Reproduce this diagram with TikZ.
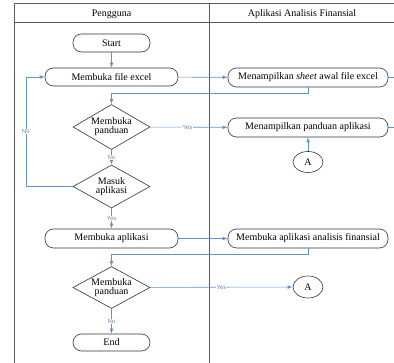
\documentclass[tikz,border=0pt]{standalone}
\usepackage{fontspec}
\setmainfont{Liberation Serif}
\newfontfamily\lblfont{Liberation Sans}
\usetikzlibrary{arrows.meta,shapes.geometric}
\definecolor{flowblue}{RGB}{96,146,206}
\definecolor{lblgray}{RGB}{120,135,160}
\definecolor{lanegray}{RGB}{90,90,90}
\tikzset{
  txt/.style={font=\fontsize{10}{11}\selectfont, align=center},
  term/.style={txt, draw=black!80, line width=0.6pt, rectangle, rounded corners=8.5pt,
    inner sep=0pt, minimum height=18pt},
  decide/.style={txt, draw=black!80, line width=0.6pt, diamond, aspect=1.7,
    inner sep=0pt, minimum width=77pt},
  conn/.style={txt, draw=black!80, line width=0.6pt, ellipse, inner sep=0pt,
    minimum width=30pt, minimum height=21pt},
  flow/.style={draw=flowblue, line width=0.6pt, -{Latex[length=5pt,width=3.6pt]}},
  plain/.style={draw=flowblue, line width=0.6pt},
  lbl/.style={font=\lblfont\fontsize{6}{7}\selectfont, text=lblgray, fill=white,
    inner sep=0.6pt},
  lane/.style={draw=lanegray, line width=1pt},
}
\begin{document}
\begin{tikzpicture}[x=1pt,y=-1pt]
\useasboundingbox (0,0) rectangle (394,363);

% swimlanes
\draw[lane] (14,363) -- (14,4) -- (394,4);
\draw[lane] (14,23) -- (394,23);
\draw[lane] (209,4) -- (209,363);
\node[txt] (h1) at (111.5,14) {Pengguna};
\node[txt] (h2) at (302,14) {Aplikasi Analisis Finansial};

% user lane
\node[term, minimum width=77pt] (start) at (111.5,43) {Start};
\node[term, minimum width=133pt] (file) at (111.5,77) {Membuka file excel};
\node[decide, minimum height=45pt] (d1) at (111.5,127) {Membuka\\[-2pt]panduan};
\node[decide, minimum height=43pt] (d2) at (111.5,186.5) {Masuk\\[-2pt]aplikasi};
\node[term, minimum width=133pt, minimum height=19pt] (open) at (111.5,238.5) {Membuka aplikasi};
\node[decide, minimum height=41pt] (d3) at (111.5,287.5) {Membuka\\[-2pt]panduan};
\node[term, minimum width=77pt, minimum height=17pt] (end) at (111.5,342.5) {End};

% application lane
\node[term, minimum width=160pt, minimum height=19pt] (sheet) at (308,77.5)
  {Menampilkan \textit{sheet} awal file excel};
\node[term, minimum width=160pt, minimum height=19pt] (guide) at (308,127.5)
  {Menampilkan panduan aplikasi};
\node[conn] (a1) at (308,162) {A};
\node[term, minimum width=160pt, minimum height=19pt] (fin) at (308,238.5)
  {Membuka aplikasi analisis finansial};
\node[conn, minimum height=22pt] (a2) at (308,287) {A};

\coordinate (out1) at (394,77.5);
\coordinate (out2) at (394,127.5);
\coordinate (loop) at (26,186.5);

% connectors
\draw[flow] (start) -- (file);
\draw[flow] (file) -- (sheet);
\draw[plain] (sheet) -- (out1);
\draw[flow] (sheet.south) -- ++(0,6.5) -| (d1.north);
\draw[flow] (d1) -- node[lbl, pos=0.48] {Yes} (guide);
\draw[plain] (guide) -- (out2);
\draw[flow] (a1) -- (guide);
\draw[flow] (d1) -- node[lbl] {No} (d2);
\draw[flow] (d2.west) -- (loop) |- node[lbl, pos=0.25] {No} (file.west);
\draw[flow] (d2) -- node[lbl] {Yes} (open);
\draw[flow] (open) -- (fin);
\draw[flow] (fin.south) -- ++(0,6.5) -| (d3.north);
\draw[flow] (d3) -- node[lbl, pos=0.5] {Yes} (a2);
\draw[flow] (d3) -- node[lbl] {No} (end);
\end{tikzpicture}
\end{document}
